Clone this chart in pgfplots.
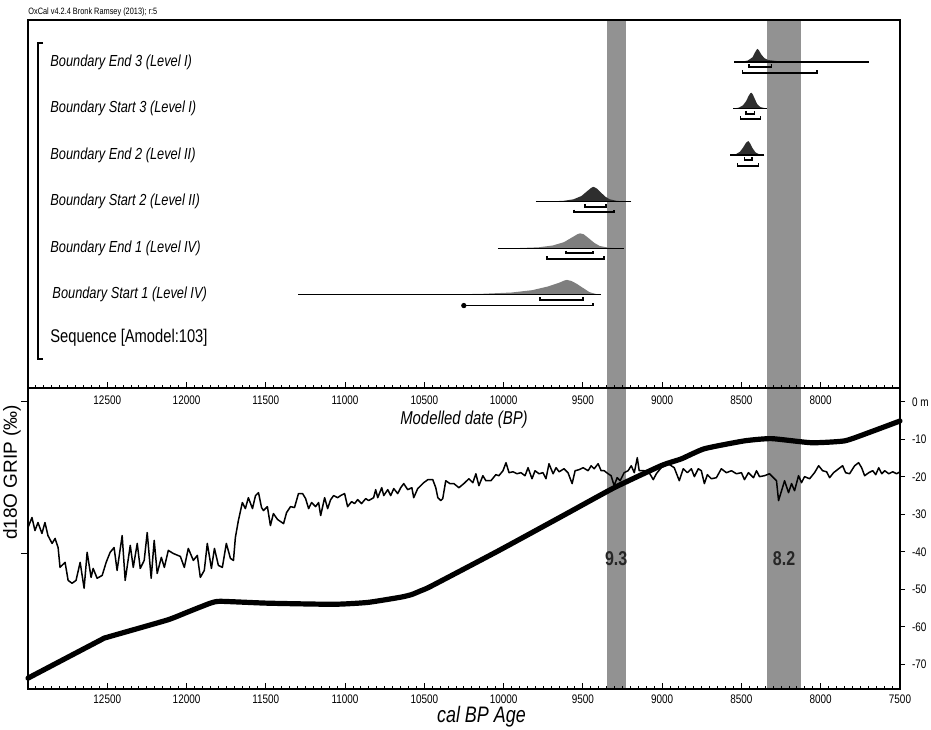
\documentclass[border=0pt]{standalone}
\usepackage{fontspec}
\setmainfont{Liberation Sans}[FakeStretch=0.8]
\newfontfamily\plainsans{Liberation Sans}
\usepackage{pgfplots}
\usepackage{pgfplotstable}
\pgfplotsset{compat=1.18}

\definecolor{band}{HTML}{929292}
\definecolor{distdark}{HTML}{2E2E2E}
\definecolor{distgray}{HTML}{7E7E7E}

\newcommand\tickfont{\fontsize{6.2}{7}\selectfont}
\newcommand\rowfont{\fontsize{8}{10}\selectfont\itshape}

\pgfplotstableread{
year sl
13000 -73.7
12545 -63.6
12501 -62.8
12122 -58.2
11995 -56.1
11850 -53.7
11787 -53.2
11490 -53.7
11072 -54.0
10857 -53.5
10649 -52.1
10580 -51.4
10523 -50.4
10459 -49.2
10036 -39.8
9619 -30.2
9303 -22.9
9006 -17.0
8879 -15.2
8734 -12.5
8481 -10.4
8311 -9.8
8058 -10.9
7849 -10.4
7697 -8.2
7500 -5.1
}\sealevel

\pgfplotstableread{
year d
13000 -38.29
12975 -37.63
12956 -38.49
12937 -37.96
12912 -38.68
12893 -37.96
12874 -38.82
12848 -39.34
12829 -39.01
12810 -39.61
12798 -40.92
12766 -40.59
12747 -41.78
12722 -41.97
12697 -41.78
12671 -40.59
12646 -42.30
12627 -39.93
12602 -41.58
12589 -40.99
12564 -41.64
12532 -41.45
12507 -40.59
12482 -39.93
12457 -39.61
12438 -41.12
12406 -38.82
12387 -41.78
12355 -39.47
12336 -40.92
12311 -39.34
12292 -40.99
12267 -40.46
12248 -38.62
12223 -41.64
12204 -39.14
12185 -41.32
12159 -40.26
12140 -40.92
12115 -39.80
12084 -40.00
12039 -40.20
12014 -40.92
11989 -39.67
11957 -40.46
11932 -40.13
11913 -41.58
11888 -41.12
11869 -39.34
11843 -40.99
11824 -39.67
11799 -40.79
11774 -40.92
11749 -39.34
11723 -40.33
11704 -40.46
11692 -38.95
11673 -37.83
11648 -36.64
11629 -37.04
11610 -36.32
11584 -37.04
11565 -36.18
11546 -35.99
11527 -36.97
11515 -37.17
11490 -36.91
11471 -38.16
11452 -37.37
11426 -37.76
11388 -38.03
11369 -37.30
11344 -36.91
11319 -36.97
11294 -36.05
11268 -36.05
11249 -36.38
11230 -37.04
11211 -36.64
11186 -36.91
11167 -36.64
11154 -37.50
11129 -36.32
11110 -37.04
11091 -36.45
11072 -36.18
11047 -36.32
11028 -36.18
11003 -36.05
10984 -36.91
10959 -36.58
10940 -36.71
10921 -36.45
10896 -36.71
10870 -36.38
10851 -36.51
10820 -36.32
10807 -35.79
10794 -36.32
10769 -35.66
10756 -36.18
10731 -35.79
10712 -36.18
10693 -35.72
10668 -36.05
10649 -35.66
10630 -35.39
10605 -35.79
10579 -35.66
10567 -36.32
10542 -35.72
10523 -35.53
10504 -35.33
10478 -35.13
10447 -35.13
10428 -35.66
10415 -36.32
10396 -36.51
10384 -36.38
10365 -35.20
10339 -35.39
10314 -35.39
10282 -35.66
10251 -35.39
10219 -35.07
10194 -35.33
10175 -34.74
10156 -35.53
10131 -34.87
10112 -35.20
10080 -35.20
10049 -34.80
10030 -34.87
10004 -34.54
9985 -34.01
9966 -34.67
9941 -34.61
9916 -34.74
9891 -34.67
9865 -34.87
9846 -34.34
9821 -35.07
9802 -34.54
9777 -34.74
9752 -34.67
9733 -35.07
9714 -34.08
9688 -34.74
9669 -34.34
9650 -34.61
9619 -34.41
9594 -34.67
9568 -35.39
9549 -34.54
9524 -34.47
9499 -34.34
9467 -34.54
9448 -34.21
9429 -34.41
9404 -34.08
9385 -34.54
9366 -34.54
9341 -34.74
9322 -34.87
9303 -35.53
9284 -35.00
9265 -35.20
9240 -34.67
9215 -34.54
9195 -34.21
9176 -34.67
9157 -33.68
9145 -34.54
9113 -34.54
9082 -34.67
9056 -35.13
9037 -34.74
9006 -34.34
8962 -34.08
8924 -34.34
8892 -35.20
8867 -34.41
8841 -34.67
8816 -34.41
8797 -34.93
8772 -34.41
8753 -34.54
8734 -35.39
8715 -34.80
8690 -35.07
8658 -35.00
8627 -34.41
8595 -34.67
8563 -34.54
8532 -34.74
8500 -34.67
8481 -35.13
8456 -34.67
8424 -35.00
8405 -34.54
8386 -34.93
8355 -34.87
8323 -34.74
8298 -35.00
8279 -35.20
8266 -36.51
8247 -35.86
8228 -35.20
8203 -35.99
8184 -35.39
8165 -35.86
8140 -34.87
8121 -35.33
8102 -34.93
8070 -35.07
8039 -34.67
8013 -34.21
7988 -34.54
7963 -34.61
7944 -35.00
7919 -34.67
7887 -34.41
7862 -34.21
7843 -34.67
7818 -34.74
7786 -34.21
7761 -34.01
7742 -34.34
7723 -34.87
7697 -34.67
7672 -34.54
7653 -34.80
7634 -34.34
7615 -34.74
7596 -34.54
7571 -34.74
7546 -34.61
7521 -34.74
7500 -34.61
}\grip

\pgfplotsset{
  panel/.style={
    at={(14pt,#1)}, anchor=north west, scale only axis, width=436pt,
    x dir=reverse, xmin=7500, xmax=13000,
    axis line style={line width=1pt},
    axis on top, clip=false, scaled ticks=false,
    every tick/.style={black, line width=0.5pt},
    tick label style={font=\tickfont},
    /pgf/number format/.cd, set thousands separator={}, assume math mode=true,
  },
}

\begin{document}
\begin{tikzpicture}
\useasboundingbox (0,0) rectangle (465.5pt,-364.5pt);

% ---------------- top OxCal panel ----------------
\begin{axis}[panel={-10pt}, height=184pt,
  ymin=0, ymax=7.9, ytick=\empty,
  xtick={8000,8500,...,12500}, minor xtick={7550,7600,...,12950},
  xtick pos=left, tick align=inside,
  major tick length=3pt, minor tick length=1.6pt,
  xticklabel style={anchor=center, yshift=-6pt},
]
% event bands
\addplot[fill=band, draw=none] coordinates {(9350,0) (9230,0) (9230,7.9) (9350,7.9)} -- cycle;
\addplot[fill=band, draw=none] coordinates {(8336,0) (8127,0) (8127,7.9) (8336,7.9)} -- cycle;

% sequence bracket
\addplot[black, line width=1pt] coordinates {(12905,7.40) (12937,7.40) (12937,0.62) (12905,0.62)};

% Boundary End 3
\addplot[fill=distdark, draw=none] coordinates {(8544,7) (8490,7.01) (8460,7.03) (8430,7.10) (8415,7.20) (8405,7.26) (8399,7.28) (8390,7.25) (8375,7.16) (8355,7.08) (8330,7.04) (8280,7.02) (8200,7.01) (8050,7.003) (7697,7)} -- cycle;
\addplot[black, line width=0.6pt] coordinates {(8544,7) (7697,7)};
\addplot[black, line width=0.9pt] coordinates {(8450,6.95) (8450,6.89) (8311,6.89) (8311,6.95)};
\addplot[black, line width=0.9pt] coordinates {(8494,6.83) (8494,6.77) (8026,6.77) (8026,6.83)};

% Boundary Start 3
\addplot[fill=distdark, draw=none] coordinates {(8551,6) (8515,6.02) (8490,6.07) (8470,6.16) (8455,6.27) (8443,6.33) (8437,6.34) (8428,6.30) (8415,6.20) (8400,6.09) (8380,6.03) (8342,6)} -- cycle;
\addplot[black, line width=0.6pt] coordinates {(8551,6) (8342,6)};
\addplot[black, line width=0.9pt] coordinates {(8469,5.95) (8469,5.89) (8418,5.89) (8418,5.95)};
\addplot[black, line width=0.9pt] coordinates {(8506,5.83) (8506,5.77) (8380,5.77) (8380,5.83)};

% Boundary End 2
\addplot[fill=distdark, draw=none] coordinates {(8570,5) (8535,5.02) (8510,5.07) (8490,5.16) (8472,5.26) (8462,5.29) (8456,5.30) (8445,5.25) (8430,5.15) (8412,5.06) (8390,5.02) (8355,5)} -- cycle;
\addplot[black, line width=0.6pt] coordinates {(8570,5) (8355,5)};
\addplot[black, line width=0.9pt] coordinates {(8481,4.95) (8481,4.89) (8431,4.89) (8431,4.95)};
\addplot[black, line width=0.9pt] coordinates {(8525,4.83) (8525,4.77) (8393,4.77) (8393,4.83)};

% Boundary Start 2
\addplot[fill=distdark, draw=none] coordinates {(9796,4) (9700,4.005) (9620,4.02) (9560,4.05) (9510,4.12) (9475,4.22) (9450,4.29) (9435,4.32) (9415,4.29) (9390,4.21) (9360,4.11) (9330,4.05) (9290,4.02) (9250,4.005) (9195,4)} -- cycle;
\addplot[black, line width=0.6pt] coordinates {(9796,4) (9195,4)};
\addplot[black, line width=0.9pt] coordinates {(9486,3.95) (9486,3.89) (9353,3.89) (9353,3.95)};
\addplot[black, line width=0.9pt] coordinates {(9556,3.83) (9556,3.77) (9303,3.77) (9303,3.83)};

% Boundary End 1
\addplot[fill=distgray, draw=none] coordinates {(10036,3) (9900,3.005) (9780,3.02) (9690,3.06) (9620,3.13) (9570,3.23) (9535,3.30) (9518,3.32) (9495,3.30) (9465,3.22) (9430,3.12) (9395,3.05) (9350,3.02) (9300,3.005) (9240,3)} -- cycle;
\addplot[black, line width=0.6pt] coordinates {(10036,3) (9240,3)};
\addplot[black, line width=0.9pt] coordinates {(9606,2.95) (9606,2.89) (9435,2.89) (9435,2.95)};
\addplot[black, line width=0.9pt] coordinates {(9726,2.83) (9726,2.77) (9366,2.77) (9366,2.83)};

% Boundary Start 1
\addplot[fill=distgray, draw=none] coordinates {(11294,2) (10800,2.003) (10400,2.01) (10150,2.02) (9950,2.05) (9820,2.10) (9720,2.18) (9650,2.26) (9615,2.31) (9600,2.32) (9575,2.30) (9540,2.24) (9500,2.15) (9460,2.06) (9420,2.02) (9385,2)} -- cycle;
\addplot[black, line width=0.6pt] coordinates {(11294,2) (9385,2)};
\addplot[black, line width=0.9pt] coordinates {(9771,1.95) (9771,1.89) (9499,1.89) (9499,1.95)};
\addplot[black, line width=0.9pt] coordinates {(10251,1.77) (9435,1.77) (9435,1.83)};
\addplot[only marks, mark=*, mark size=1.1pt, black] coordinates {(10251,1.77)};

% labels
\node[anchor=west, inner sep=0pt, font=\rowfont] at (axis cs:12861,7) {Boundary End 3 (Level I)};
\node[anchor=west, inner sep=0pt, font=\rowfont] at (axis cs:12861,6) {Boundary Start 3 (Level I)};
\node[anchor=west, inner sep=0pt, font=\rowfont] at (axis cs:12861,5) {Boundary End 2 (Level II)};
\node[anchor=west, inner sep=0pt, font=\rowfont] at (axis cs:12861,4) {Boundary Start 2 (Level II)};
\node[anchor=west, inner sep=0pt, font=\rowfont] at (axis cs:12861,3) {Boundary End 1 (Level IV)};
\node[anchor=west, inner sep=0pt, font=\rowfont] at (axis cs:12848,2) {Boundary Start 1 (Level IV)};
\node[anchor=west, inner sep=0pt, font=\fontsize{9.2}{11}\selectfont] at (axis cs:12861,1.07) {Sequence [Amodel:103]};
\node[anchor=west, font=\fontsize{4.6}{5}\selectfont, inner sep=0pt] at (axis description cs:0,1.022) {OxCal v4.2.4 Bronk Ramsey (2013); r:5};
\node[font=\fontsize{9.3}{11}\selectfont\itshape] at (axis description cs:0.5,-0.087) {Modelled date (BP)};
\end{axis}

% ---------------- bottom panel: sea level + bands + x axis ----------------
\begin{axis}[panel={-194pt}, height=150.5pt,
  ymin=-76.6, ymax=3.7, ytick=\empty,
  xtick={7500,8000,...,12500}, minor xtick={7550,7600,...,12950},
  xtick pos=left, tick align=inside,
  major tick length=3pt, minor tick length=1.6pt,
  xticklabel style={anchor=center, yshift=-5pt},
]
\addplot[fill=band, draw=none] coordinates {(9350,-76.6) (9230,-76.6) (9230,3.7) (9350,3.7)} -- cycle;
\addplot[fill=band, draw=none] coordinates {(8336,-76.6) (8127,-76.6) (8127,3.7) (8336,3.7)} -- cycle;
\addplot[black, line width=2.6pt, line join=round, line cap=round, smooth, tension=0.3] table[x=year, y=sl] {\sealevel};
\node[font=\fontsize{10}{11}\selectfont\bfseries, text=black!85] at (axis cs:9290,-41.8) {9.3};
\node[font=\fontsize{10}{11}\selectfont\bfseries, text=black!85] at (axis cs:8231,-41.8) {8.2};
\node[font=\fontsize{11.2}{13}\selectfont\itshape] at (axis description cs:0.52,-0.093) {cal BP Age};
\end{axis}

% ---------------- bottom panel: d18O (left axis) ----------------
\begin{axis}[panel={-194pt}, height=150.5pt,
  ymin=-48.95, ymax=-29.08, xtick=\empty,
  ytick={-40,-30}, yticklabels={}, ytick pos=left, tick align=outside,
  major tick length=3.5pt,
]
\addplot[black, line width=0.75pt, line join=round] table[x=year, y=d] {\grip};
\node[rotate=90, font=\plainsans\fontsize{9.5}{11}\selectfont] at (axis description cs:-0.0183,0.72) {d18O GRIP (‰)};
\end{axis}

% ---------------- bottom panel: sea level (right axis) ----------------
\begin{axis}[panel={-194pt}, height=150.5pt,
  ymin=-76.6, ymax=3.7, xtick=\empty,
  ytick={-70,-60,...,0}, yticklabels={-70,-60,-50,-40,-30,-20,-10,0 m},
  ytick pos=right, tick align=outside, major tick length=2.5pt,
]
\end{axis}
\end{tikzpicture}
\end{document}
